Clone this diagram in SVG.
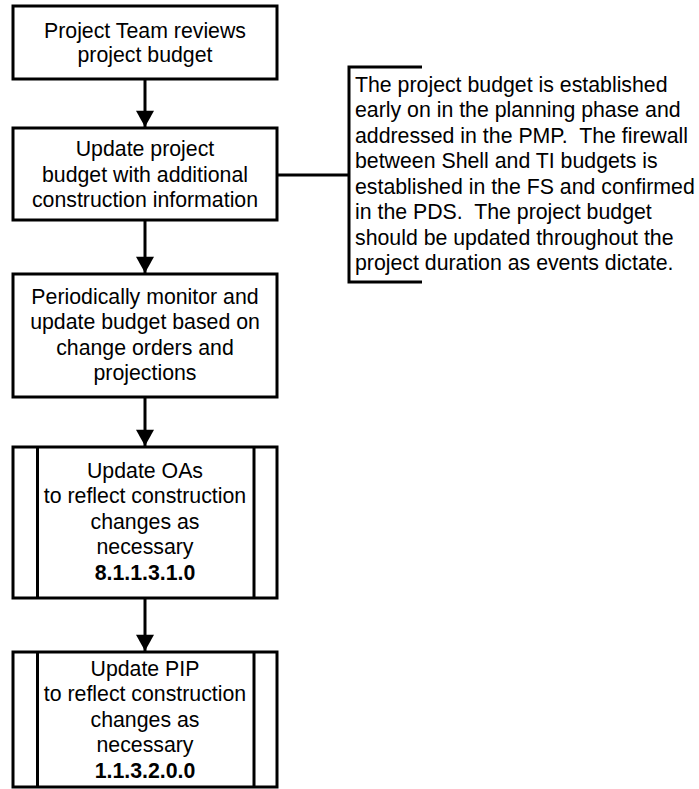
<svg xmlns="http://www.w3.org/2000/svg" width="699" height="789" viewBox="0 0 699 789">
<style>
.box{fill:#fff;stroke:#000;stroke-width:3}
.ln{fill:none;stroke:#000;stroke-width:3}
.t{font-family:"Liberation Sans",Arial,sans-serif;font-size:21.3px;fill:#000;white-space:pre}
.c{text-anchor:middle}
.b{font-weight:bold}
</style>
<defs>
<marker id="ah" markerUnits="userSpaceOnUse" markerWidth="20" markerHeight="18" refX="18" refY="10" orient="auto" viewBox="0 0 18 20">
<polygon points="0,0 18,10 0,20" fill="#000"/>
</marker>
</defs>
<g id="connectors">
<line class="ln" x1="145" y1="79" x2="145" y2="127" marker-end="url(#ah)"/>
<line class="ln" x1="145" y1="220" x2="145" y2="273" marker-end="url(#ah)"/>
<line class="ln" x1="145" y1="397" x2="145" y2="446" marker-end="url(#ah)"/>
<line class="ln" x1="145" y1="598" x2="145" y2="651" marker-end="url(#ah)"/>
<line class="ln" x1="277" y1="175" x2="349" y2="175"/>
</g>
<g id="n1">
<rect class="box" x="13" y="6" width="264" height="73"/>
<text class="t c" x="145" y="37.5">Project Team reviews</text>
<text class="t c" x="145" y="62">project budget</text>
</g>
<g id="n2">
<rect class="box" x="13" y="128" width="264" height="92"/>
<text class="t c" x="145" y="156">Update project</text>
<text class="t c" x="145" y="181.5">budget with additional</text>
<text class="t c" x="145" y="207">construction information</text>
</g>
<g id="n3">
<rect class="box" x="13" y="274" width="264" height="123"/>
<text class="t c" x="145" y="304">Periodically monitor and</text>
<text class="t c" x="145" y="329.3">update budget based on</text>
<text class="t c" x="145" y="354.6">change orders and</text>
<text class="t c" x="145" y="380">projections</text>
</g>
<g id="n4">
<rect class="box" x="13" y="447" width="264" height="151"/>
<line class="ln" x1="37.5" y1="447" x2="37.5" y2="598"/>
<line class="ln" x1="254" y1="447" x2="254" y2="598"/>
<text class="t c" x="145" y="478">Update OAs</text>
<text class="t c" x="145" y="503.3">to reflect construction</text>
<text class="t c" x="145" y="528.6">changes as</text>
<text class="t c" x="145" y="554">necessary</text>
<text class="t c b" x="145" y="579.5">8.1.1.3.1.0</text>
</g>
<g id="n5">
<rect class="box" x="13" y="652" width="264" height="135"/>
<line class="ln" x1="37.5" y1="652" x2="37.5" y2="787"/>
<line class="ln" x1="254" y1="652" x2="254" y2="787"/>
<text class="t c" x="145" y="676">Update PIP</text>
<text class="t c" x="145" y="701">to reflect construction</text>
<text class="t c" x="145" y="726.5">changes as</text>
<text class="t c" x="145" y="752">necessary</text>
<text class="t c b" x="145" y="777.5">1.1.3.2.0.0</text>
</g>
<g id="note">
<polyline class="ln" points="422,67 349,67 349,282 422,282"/>
<text class="t" x="355" y="91.7">The project budget is established</text>
<text class="t" x="355" y="117.2">early on in the planning phase and</text>
<text class="t" x="355" y="142.7">addressed in the PMP.  The firewall</text>
<text class="t" x="355" y="168.1">between Shell and TI budgets is</text>
<text class="t" x="355" y="193.6">established in the FS and confirmed</text>
<text class="t" x="355" y="219">in the PDS.  The project budget</text>
<text class="t" x="355" y="244.5">should be updated throughout the</text>
<text class="t" x="355" y="270">project duration as events dictate.</text>
</g>
</svg>
